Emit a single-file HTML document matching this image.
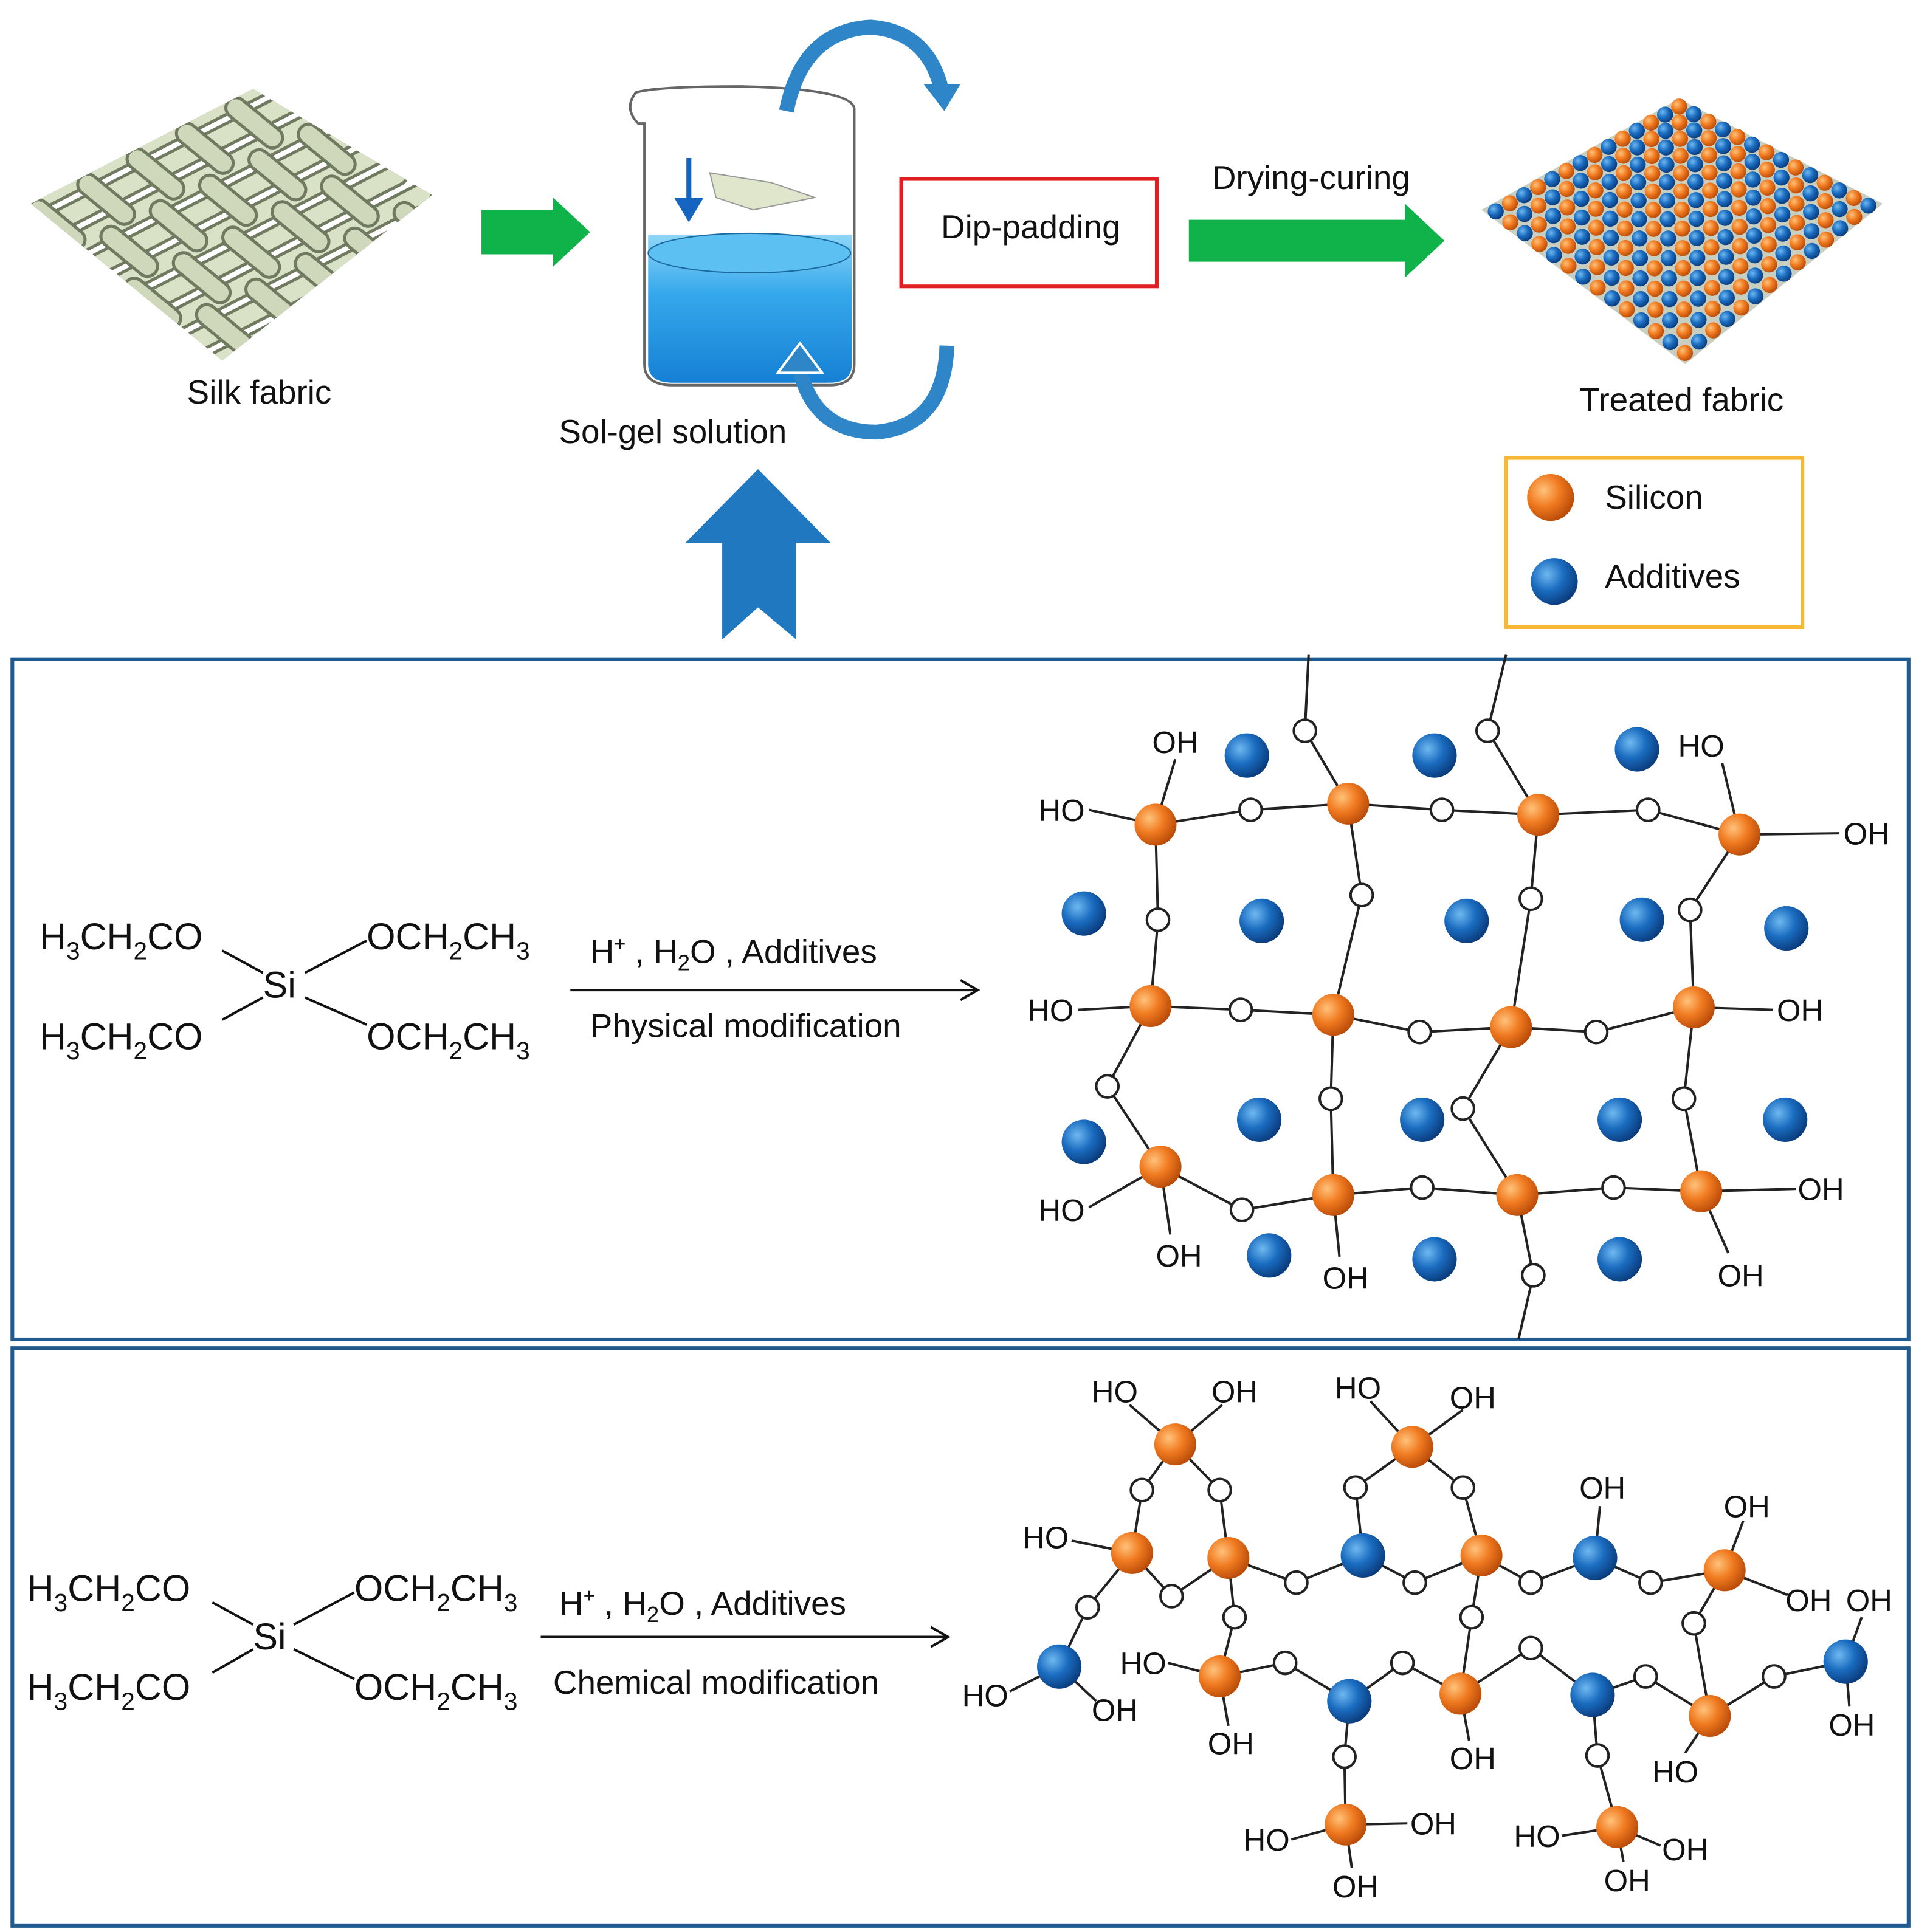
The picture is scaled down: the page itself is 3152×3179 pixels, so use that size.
<!DOCTYPE html>
<html><head><meta charset="utf-8">
<style>
html,body{margin:0;padding:0;background:#fff;}
svg{display:block;}
text{font-family:"Liberation Sans",Arial,sans-serif;fill:#111;}
</style></head>
<body>
<svg id="s" width="3152" height="3179" viewBox="0 0 1552 1565" preserveAspectRatio="none" xmlns="http://www.w3.org/2000/svg">
<defs>
<radialGradient id="og" cx="0.35" cy="0.35" r="0.7"><stop offset="0" stop-color="#ffc27a"/><stop offset="0.5" stop-color="#f07a20"/><stop offset="1" stop-color="#b84a08"/></radialGradient>
<radialGradient id="bg" cx="0.35" cy="0.35" r="0.7"><stop offset="0" stop-color="#6fb8f0"/><stop offset="0.5" stop-color="#1a6cc0"/><stop offset="1" stop-color="#0a3a7a"/></radialGradient>
<linearGradient id="liq" x1="0" y1="0" x2="0" y2="1"><stop offset="0" stop-color="#8fd6f8"/><stop offset="0.4" stop-color="#35a8ec"/><stop offset="1" stop-color="#1680d4"/></linearGradient>
<clipPath id="dclip"><polygon points="25,165 205,72 350,158 180,292"/></clipPath>
</defs>
<rect width="1552" height="1565" fill="#fff"/>
<g id="silk" clip-path="url(#dclip)"></g>
<g id="treated"></g>
<text x="210" y="327" font-size="27" text-anchor="middle">Silk fabric</text>
<polygon points="390,170 448,170 448,160 478,188 448,216 448,206 390,206" fill="#10b34a"/>
<path d="M525,190 L525,295 Q525,310 545,310 L672,310 Q690,310 690,295 L690,190 Z" fill="url(#liq)"/>
<ellipse cx="607" cy="205" rx="82" ry="16" fill="#5cc0f2" stroke="#1a6aa0" stroke-width="1"/>
<path d="M515,75 Q505,88 517,100 L522,100 L522,295 Q522,312 545,312 L672,312 Q692,312 692,295 L692,88 Q690,72 600,70 Q530,70 515,75 Z" fill="none" stroke="#666" stroke-width="2"/>
<polygon points="575,140 625,148 660,160 610,170 580,160" fill="#dfe6cc" stroke="#999" stroke-width="1"/>
<line x1="558" y1="128" x2="558" y2="170" stroke="#1565c0" stroke-width="4"/>
<polygon points="546,160 570,160 558,180" fill="#1565c0"/>
<path d="M637,90 Q650,25 705,22 Q750,25 762,70" fill="none" stroke="#2e86c8" stroke-width="12"/>
<polygon points="748,68 778,68 765,90" fill="#2e86c8"/>
<path d="M767,280 Q765,345 710,350 Q660,350 648,300" fill="none" stroke="#2e86c8" stroke-width="12"/>
<polygon points="630,302 666,302 648,278" fill="#2e86c8" stroke="#fff" stroke-width="2"/>
<text x="545" y="359" font-size="27" text-anchor="middle">Sol-gel solution</text>
<rect x="730" y="145" width="207" height="87" fill="none" stroke="#e02020" stroke-width="3"/>
<text x="835" y="193" font-size="27" text-anchor="middle">Dip-padding</text>
<text x="1062" y="153" font-size="27" text-anchor="middle">Drying-curing</text>
<polygon points="963,178 1138,178 1138,165 1170,195 1138,225 1138,212 963,212" fill="#10b34a"/>
<text x="1362" y="333" font-size="27" text-anchor="middle">Treated fabric</text>
<rect x="1220" y="371" width="240" height="137" fill="none" stroke="#f5b830" stroke-width="3"/>
<circle cx="1256" cy="403" r="19" fill="url(#og)"/>
<circle cx="1259" cy="471" r="19" fill="url(#bg)"/>
<text x="1300" y="412" font-size="27">Silicon</text>
<text x="1300" y="476" font-size="27">Additives</text>
<polygon points="555,440 614,380 673,440 645,440 645,518 614,492 585,518 585,440" fill="#1f78c0"/>
<rect x="10" y="534" width="1536" height="551" fill="none" stroke="#1f5b8f" stroke-width="3"/>
<rect x="10" y="1092" width="1536" height="468" fill="none" stroke="#1f5b8f" stroke-width="3"/>
<g font-size="30">
<text x="32" y="769">H<tspan font-size="20" dy="8">3</tspan><tspan dy="-8">CH</tspan><tspan font-size="20" dy="8">2</tspan><tspan dy="-8">CO</tspan></text>
<text x="32" y="850">H<tspan font-size="20" dy="8">3</tspan><tspan dy="-8">CH</tspan><tspan font-size="20" dy="8">2</tspan><tspan dy="-8">CO</tspan></text>
<text x="297" y="769">OCH<tspan font-size="20" dy="8">2</tspan><tspan dy="-8">CH</tspan><tspan font-size="20" dy="8">3</tspan></text>
<text x="297" y="850">OCH<tspan font-size="20" dy="8">2</tspan><tspan dy="-8">CH</tspan><tspan font-size="20" dy="8">3</tspan></text>
<text x="213" y="808">Si</text>
<text x="22" y="1297">H<tspan font-size="20" dy="8">3</tspan><tspan dy="-8">CH</tspan><tspan font-size="20" dy="8">2</tspan><tspan dy="-8">CO</tspan></text>
<text x="22" y="1377">H<tspan font-size="20" dy="8">3</tspan><tspan dy="-8">CH</tspan><tspan font-size="20" dy="8">2</tspan><tspan dy="-8">CO</tspan></text>
<text x="287" y="1297">OCH<tspan font-size="20" dy="8">2</tspan><tspan dy="-8">CH</tspan><tspan font-size="20" dy="8">3</tspan></text>
<text x="287" y="1377">OCH<tspan font-size="20" dy="8">2</tspan><tspan dy="-8">CH</tspan><tspan font-size="20" dy="8">3</tspan></text>
<text x="205" y="1336">Si</text>
</g>
<g stroke="#111" stroke-width="2">
<line x1="180" y1="770" x2="213" y2="788"/><line x1="180" y1="826" x2="213" y2="808"/>
<line x1="247" y1="788" x2="297" y2="762"/><line x1="247" y1="808" x2="297" y2="830"/>
<line x1="172" y1="1298" x2="205" y2="1316"/><line x1="172" y1="1355" x2="205" y2="1336"/>
<line x1="238" y1="1316" x2="287" y2="1290"/><line x1="238" y1="1336" x2="287" y2="1360"/>
<line x1="462" y1="802" x2="790" y2="802"/><line x1="438" y1="1326" x2="766" y2="1326"/>
</g>
<path d="M778,794 L792,802 L778,810" fill="none" stroke="#111" stroke-width="2"/>
<path d="M754,1318 L768,1326 L754,1334" fill="none" stroke="#111" stroke-width="2"/>
<text x="478" y="780" font-size="27">H<tspan font-size="16" dy="-10">+</tspan><tspan dy="10"> , H</tspan><tspan font-size="18" dy="6">2</tspan><tspan dy="-6">O , Additives</tspan></text>
<text x="478" y="840" font-size="27">Physical modification</text>
<text x="453" y="1308" font-size="27">H<tspan font-size="16" dy="-10">+</tspan><tspan dy="10"> , H</tspan><tspan font-size="18" dy="6">2</tspan><tspan dy="-6">O , Additives</tspan></text>
<text x="448" y="1372" font-size="27">Chemical modification</text>
<g id="net"></g>
</svg>
<script>
(function(){
var NS="http://www.w3.org/2000/svg";
function el(p,t,a){var e=document.createElementNS(NS,t);for(var k in a)e.setAttribute(k,a[k]);p.appendChild(e);return e;}
var net=document.getElementById('net');
var lines=el(net,'g',{stroke:'#222','stroke-width':2});
var topG=el(net,'g',{});
function O(x,y){el(topG,'circle',{cx:x,cy:y,r:9,fill:'#fff',stroke:'#222','stroke-width':2});}
function L(a,b){el(lines,'line',{x1:a[0],y1:a[1],x2:b[0],y2:b[1]});}
function T(s,x,y){var t=el(topG,'text',{x:x,y:y+9,'font-size':25,'text-anchor':'middle'});t.textContent=s;}
function ball(p,c){el(topG,'circle',{cx:p[0],cy:p[1],r:c=='o'?17:18,fill:c=='o'?'url(#og)':'url(#bg)'});}
function chain(arr){for(var z=0;z<arr.length-1;z++)L(arr[z],arr[z+1]);}
var os=[];function o(x,y){var p=[x,y];os.push(p);return p;}
var A=[936,668],B=[1092,651],C=[1246,660],D=[1409,676],E=[932,815],F=[1080,822],G=[1224,832],H=[1372,816],I=[940,945],J=[1080,968],K=[1229,968],Lq=[1378,965];
chain([A,o(1013,656),B,o(1168,656),C,o(1335,656),D]);
chain([A,o(938,745),E]);chain([B,o(1103,725),F]);chain([C,o(1240,728),G]);chain([D,o(1369,737),H]);
chain([E,o(1005,818),F,o(1150,836),G,o(1293,836),H]);
chain([E,o(897,880),I]);chain([F,o(1078,890),J]);chain([G,o(1185,898),K]);chain([H,o(1364,890),Lq]);
chain([I,o(1006,980),J,o(1152,962),K,o(1307,962),Lq]);
chain([K,o(1242,1033),[1230,1085]]);chain([B,o(1057,592),[1060,530]]);chain([C,o(1205,592),[1220,530]]);
L(A,[952,615]);L(A,[882,656]);L(D,[1395,618]);L(D,[1490,675]);L(E,[873,818]);L(H,[1436,818]);L(I,[882,978]);L(I,[948,1000]);L(J,[1085,1018]);L(Lq,[1400,1015]);L(Lq,[1455,963]);
T('OH',952,601);T('HO',860,656);T('HO',1378,604);T('OH',1512,675);T('HO',851,818);T('OH',1458,818);T('HO',860,980);T('OH',955,1017);T('OH',1090,1035);T('OH',1410,1033);T('OH',1475,963);
[A,B,C,D,E,F,G,H,I,J,K,Lq].forEach(function(p){ball(p,'o');});
[[1010,612],[1162,612],[1326,607],[878,740],[1022,746],[1188,746],[1330,745],[1447,752],[878,925],[1020,907],[1152,907],[1312,907],[1446,907],[1028,1017],[1162,1020],[1312,1020]].forEach(function(p){ball(p,'b');});
var a=[952,1170],b=[1144,1172],c=[917,1258],d=[995,1262],e=[1200,1260],f=[1397,1272],g=[988,1358],h=[1183,1372],i=[1385,1390],j=[1090,1478],k=[1310,1480];
var p=[1104,1260],q=[1292,1262],r=[858,1350],s=[1093,1378],t=[1290,1373],u=[1495,1346];
chain([a,o(925,1207),c]);chain([a,o(988,1207),d]);chain([c,o(949,1293),d]);chain([b,o(1098,1205),p]);chain([b,o(1185,1205),e]);
chain([d,o(1050,1282),p,o(1146,1282),e,o(1240,1282),q,o(1337,1282),f]);
chain([c,o(881,1302),r]);chain([d,o(1000,1310),g]);chain([e,o(1192,1310),h]);chain([f,o(1372,1315),i]);
chain([g,o(1041,1347),s,o(1136,1347),h,o(1240,1335),t,o(1333,1358),i,o(1437,1358),u]);
chain([s,o(1089,1423),j]);chain([t,o(1294,1422),k]);
L(a,[915,1138]);L(a,[990,1138]);L(b,[1110,1135]);L(b,[1185,1142]);L(c,[868,1248]);L(q,[1296,1220]);L(f,[1412,1232]);L(f,[1448,1292]);
L(u,[1508,1310]);L(u,[1498,1382]);L(r,[818,1370]);L(r,[888,1378]);L(g,[946,1347]);L(g,[995,1398]);L(h,[1190,1410]);L(i,[1365,1420]);
L(j,[1046,1490]);L(j,[1140,1477]);L(j,[1095,1513]);L(k,[1265,1487]);L(k,[1345,1495]);L(k,[1315,1508]);
T('HO',903,1127);T('OH',1000,1127);T('HO',1100,1124);T('OH',1193,1132);T('HO',847,1245);T('OH',1298,1205);T('OH',1415,1220);T('OH',1465,1296);
T('OH',1514,1296);T('OH',1500,1397);T('HO',798,1373);T('OH',903,1385);T('HO',926,1347);T('OH',997,1412);T('OH',1193,1424);T('HO',1357,1435);
T('HO',1026,1490);T('OH',1161,1477);T('OH',1098,1528);T('HO',1245,1487);T('OH',1365,1498);T('OH',1318,1523);
[a,b,c,d,e,f,g,h,i,j,k].forEach(function(x){ball(x,'o');});
[p,q,r,s,t,u].forEach(function(x){ball(x,'b');});
os.forEach(function(x){O(x[0],x[1]);});
// silk fabric woven diamond
var silk=document.getElementById('silk');
var n,m;
var L0=[25,165], d1=[180,-93], d2=[155,127];
function tube(x1,y1,x2,y2,c){
 el(silk,'line',{x1:x1,y1:y1,x2:x2,y2:y2,stroke:'#6f7a60','stroke-width':19,'stroke-linecap':'round'});
 el(silk,'line',{x1:x1,y1:y1,x2:x2,y2:y2,stroke:c,'stroke-width':14,'stroke-linecap':'round'});
}
for(n=0;n<=8;n++){var f2=n/8;
 var sx=L0[0]+d2[0]*f2, sy=L0[1]+d2[1]*f2;
 tube(sx-20,sy+10,sx+d1[0]+20,sy+d1[1]-10,'#d9e1c6');}
for(n=0;n<=9;n++){var f1=n/9;
 var sx2=L0[0]+d1[0]*f1, sy2=L0[1]+d1[1]*f1;
 for(m=0;m<4;m++){var a0=m/4+0.04, a1=m/4+0.17;
  if((n+m)%2==0) tube(sx2+d2[0]*a0,sy2+d2[1]*a0,sx2+d2[0]*(a1+0.06),sy2+d2[1]*(a1+0.06),'#cfd8bb');}}
var tr=document.getElementById('treated');
el(tr,'polygon',{points:'1200,170 1360,80 1525,165 1365,295',fill:'#c9cfc0'});
for(m=0;m<14;m++)for(n=0;n<14;n++){
 var u2=(m+0.5)/14,v2=(n+0.5)/14;
 var x=1200+(1360-1200)*u2+(1365-1200)*v2, y=170+(80-170)*u2+(295-170)*v2;
 x+=(1525-1360-1365+1200)*u2*v2; y+=(165-80-295+170)*u2*v2;
 el(tr,'circle',{cx:x,cy:y,r:6.5,fill:((m+n)%2?'url(#og)':'url(#bg)')});}
})();
</script>
</body></html>
